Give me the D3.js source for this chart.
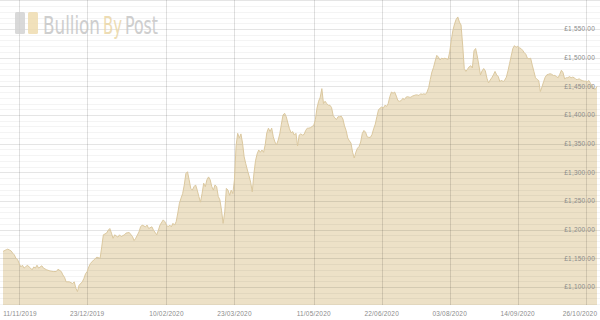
<!DOCTYPE html>
<html>
<head>
<meta charset="utf-8">
<script src="https://cdn.jsdelivr.net/npm/d3@7"></script>
<style>
  html, body { margin: 0; padding: 0; background: #fff; }
  svg { display: block; }
</style>
</head>
<body>
<script>
// gold price, one point per reading (GBP / oz)
var dates = [
  // Nov 2019
  "2019-11-01","2019-11-03","2019-11-04","2019-11-06","2019-11-07","2019-11-08","2019-11-09","2019-11-10",
  "2019-11-11","2019-11-12","2019-11-13","2019-11-14","2019-11-15","2019-11-16","2019-11-18","2019-11-19",
  "2019-11-20","2019-11-21","2019-11-22","2019-11-23","2019-11-25","2019-11-26","2019-11-28","2019-11-30",
  // Dec 2019
  "2019-12-02","2019-12-04","2019-12-05","2019-12-07","2019-12-08","2019-12-09","2019-12-10","2019-12-12",
  "2019-12-14","2019-12-15","2019-12-16","2019-12-17","2019-12-18","2019-12-20","2019-12-21","2019-12-22",
  "2019-12-23","2019-12-24","2019-12-25","2019-12-27","2019-12-29","2019-12-31",
  // Jan 2020
  "2020-01-01","2020-01-02","2020-01-04","2020-01-05","2020-01-06","2020-01-07","2020-01-08","2020-01-09",
  "2020-01-11","2020-01-12","2020-01-13","2020-01-15","2020-01-16","2020-01-18","2020-01-20","2020-01-21",
  "2020-01-22","2020-01-24","2020-01-25","2020-01-26","2020-01-28","2020-01-29","2020-01-30",
  // Feb 2020
  "2020-02-01","2020-02-02","2020-02-04","2020-02-05","2020-02-06","2020-02-08","2020-02-09","2020-02-10",
  "2020-02-11","2020-02-12","2020-02-13","2020-02-14","2020-02-15","2020-02-16","2020-02-17","2020-02-18",
  "2020-02-19","2020-02-20","2020-02-21","2020-02-22","2020-02-23","2020-02-24","2020-02-25","2020-02-26",
  "2020-02-27","2020-02-28","2020-02-29",
  // Mar 2020
  "2020-03-01","2020-03-02","2020-03-03","2020-03-04","2020-03-05","2020-03-06","2020-03-07","2020-03-08",
  "2020-03-09","2020-03-10","2020-03-11","2020-03-12","2020-03-13","2020-03-14","2020-03-15","2020-03-16",
  "2020-03-17","2020-03-18","2020-03-19","2020-03-20","2020-03-21","2020-03-22","2020-03-23","2020-03-24",
  "2020-03-25","2020-03-26","2020-03-27","2020-03-28","2020-03-29","2020-03-30","2020-03-31",
  // Apr 2020
  "2020-04-01","2020-04-02","2020-04-03","2020-04-04","2020-04-05","2020-04-06","2020-04-07","2020-04-08",
  "2020-04-09","2020-04-10","2020-04-11","2020-04-12","2020-04-13","2020-04-14","2020-04-15","2020-04-16",
  "2020-04-17","2020-04-18","2020-04-19","2020-04-20","2020-04-21","2020-04-22","2020-04-23","2020-04-24",
  "2020-04-25","2020-04-26","2020-04-27","2020-04-28","2020-04-29","2020-04-30",
  // May 2020
  "2020-05-01","2020-05-02","2020-05-03","2020-05-04","2020-05-05","2020-05-06","2020-05-07","2020-05-08",
  "2020-05-09","2020-05-10","2020-05-11","2020-05-12","2020-05-13","2020-05-14","2020-05-15","2020-05-16",
  "2020-05-17","2020-05-18","2020-05-19","2020-05-20","2020-05-21","2020-05-22","2020-05-23","2020-05-24",
  "2020-05-25","2020-05-26","2020-05-27","2020-05-28","2020-05-29","2020-05-30","2020-05-31",
  // Jun 2020
  "2020-06-01","2020-06-02","2020-06-03","2020-06-04","2020-06-05","2020-06-06","2020-06-07","2020-06-08",
  "2020-06-09","2020-06-10","2020-06-11","2020-06-12","2020-06-13","2020-06-14","2020-06-15","2020-06-16",
  "2020-06-17","2020-06-18","2020-06-19","2020-06-20","2020-06-21","2020-06-22","2020-06-23","2020-06-24",
  "2020-06-25","2020-06-26","2020-06-27","2020-06-28","2020-06-29","2020-06-30",
  // Jul 2020
  "2020-07-01","2020-07-02","2020-07-03","2020-07-04","2020-07-05","2020-07-06","2020-07-07","2020-07-08",
  "2020-07-09","2020-07-10","2020-07-11","2020-07-12","2020-07-13","2020-07-14","2020-07-15","2020-07-16",
  "2020-07-17","2020-07-18","2020-07-19","2020-07-20","2020-07-21","2020-07-22","2020-07-23","2020-07-24",
  "2020-07-25","2020-07-26","2020-07-27","2020-07-28","2020-07-29","2020-07-30","2020-07-31",
  // Aug 2020
  "2020-08-01","2020-08-02","2020-08-03","2020-08-04","2020-08-05","2020-08-06","2020-08-07","2020-08-08",
  "2020-08-09","2020-08-10","2020-08-11","2020-08-12","2020-08-13","2020-08-14","2020-08-15","2020-08-16",
  "2020-08-17","2020-08-18","2020-08-19","2020-08-20","2020-08-21","2020-08-22","2020-08-23","2020-08-24",
  "2020-08-25","2020-08-26","2020-08-27","2020-08-28","2020-08-29","2020-08-30","2020-08-31",
  // Sep 2020
  "2020-09-01","2020-09-02","2020-09-03","2020-09-04","2020-09-05","2020-09-06","2020-09-07","2020-09-08",
  "2020-09-09","2020-09-10","2020-09-11","2020-09-12","2020-09-13","2020-09-14","2020-09-15","2020-09-16",
  "2020-09-17","2020-09-18","2020-09-19","2020-09-20","2020-09-21","2020-09-22","2020-09-23","2020-09-24",
  "2020-09-25","2020-09-26","2020-09-27","2020-09-28","2020-09-29","2020-09-30",
  // Oct 2020
  "2020-10-01","2020-10-02","2020-10-03","2020-10-04","2020-10-05","2020-10-06","2020-10-07","2020-10-08",
  "2020-10-09","2020-10-10","2020-10-11","2020-10-12","2020-10-13","2020-10-14","2020-10-15","2020-10-16",
  "2020-10-17","2020-10-18","2020-10-19","2020-10-20","2020-10-21","2020-10-22","2020-10-23","2020-10-24",
  "2020-10-25","2020-10-26","2020-10-27","2020-10-28","2020-10-29","2020-10-30","2020-10-31",
  // Nov 2020
  "2020-11-01","2020-11-02"
];

var prices = [
  // Nov 2019
  1162,1165,1166,1163,1159,1156,1150,1148,
  1141,1135,1138,1133,1135,1138,1133,1130,
  1135,1133,1138,1133,1137,1133,1130,1128,
  // Dec 2019
  1127,1127,1131,1127,1121,1117,1109,1109,
  1106,1109,1098,1092,1103,1109,1115,1123,
  1127,1135,1141,1147,1152,1150,
  // Jan 2020
  1170,1191,1194,1199,1202,1194,1185,1191,
  1187,1191,1188,1191,1194,1195,1188,1181,
  1185,1196,1205,1208,1205,1208,1202,
  // Feb 2020
  1205,1199,1191,1199,1208,1217,1214,1208,
  1205,1208,1205,1211,1208,1214,1229,1246,
  1255,1263,1278,1298,1301,1287,1272,1269,
  1275,1278,1269,
  // Mar 2020
  1258,1248,1263,1281,1275,1287,1292,1287,
  1275,1269,1278,1275,1258,1252,1234,1211,
  1231,1272,1269,1260,1269,1263,1287,1346,
  1368,1360,1367,1351,1327,1315,1304,
  // Apr 2020
  1294,1283,1266,1297,1320,1332,1339,1335,
  1339,1335,1348,1369,1377,1371,1377,1362,
  1353,1348,1356,1367,1384,1400,1403,1397,
  1386,1376,1369,1371,1365,1368,
  // May 2020
  1346,1365,1367,1365,1366,1373,1377,1377,
  1378,1380,1382,1392,1412,1424,1431,1446,
  1420,1424,1420,1417,1417,1413,1399,1395,
  1392,1397,1397,1398,1393,1381,1373,
  // Jun 2020
  1360,1355,1351,1335,1325,1335,1342,1345,
  1353,1368,1373,1370,1362,1361,1361,1366,
  1376,1384,1397,1409,1412,1414,1412,1417,
  1415,1420,1432,1440,1438,1440,
  // Jul 2020
  1433,1425,1424,1425,1429,1427,1431,1432,
  1431,1431,1433,1434,1435,1435,1434,1437,
  1436,1437,1436,1440,1448,1462,1475,1483,
  1494,1504,1501,1496,1499,1498,1499,
  // Aug 2020
  1498,1497,1510,1531,1548,1559,1567,1571,
  1562,1557,1522,1481,1476,1480,1484,1486,
  1482,1512,1516,1503,1487,1470,1477,1481,
  1477,1464,1456,1461,1465,1470,1476,
  // Sep 2020
  1470,1467,1458,1461,1458,1461,1466,1477,
  1490,1503,1516,1521,1518,1520,1517,1516,
  1513,1509,1506,1499,1498,1499,1487,1476,
  1465,1462,1460,1441,1449,1458,
  // Oct 2020
  1466,1470,1471,1472,1471,1469,1469,1467,
  1465,1471,1478,1474,1463,1465,1465,1467,
  1465,1466,1465,1462,1462,1463,1461,1460,
  1459,1459,1458,1460,1455,1451,1446,
  // Nov 2020
  1445,1450
];

var xTickDates = ["2019-11-11","2019-12-23","2020-02-10","2020-03-23","2020-05-11",
                  "2020-06-22","2020-08-03","2020-09-14","2020-10-26"];
var yTicks = [1100, 1150, 1200, 1250, 1300, 1350, 1400, 1450, 1500, 1550];

var w = 600, h = 320;
var plotBottom = 305;

var parse = d3.utcParse("%Y-%m-%d");
var fmtDate = d3.utcFormat("%d/%m/%Y");
var fmtMoney = d3.format(",.2f");

var data = dates.map(function(d, i) {
  return { date: parse(d), price: prices[i] };
});

var xScale = d3.scaleUtc()
  .domain(d3.extent(data, function(d) { return d.date; }))
  .range([3, 597]);

var yScale = d3.scaleLinear()
  .domain([1100, 1550])
  .range([287, 29]);

var svg = d3.select("body")
  .append("svg")
  .attr("width", w)
  .attr("height", h);

// price area
var area = d3.area()
  .x(function(d) { return xScale(d.date); })
  .y0(plotBottom)
  .y1(function(d) { return yScale(d.price); });

var line = d3.line()
  .x(function(d) { return xScale(d.date); })
  .y(function(d) { return yScale(d.price); });

svg.append("path")
  .datum(data)
  .attr("d", area)
  .attr("fill", "#ede1c7");

// horizontal grid, £10 minor / £50 major
var gridVals = d3.range(1070, 1601, 10);
svg.append("g")
  .selectAll("line")
  .data(gridVals)
  .enter()
  .append("line")
  .attr("x1", 0)
  .attr("x2", w)
  .attr("y1", function(d) { return Math.round(yScale(d)) + 0.5; })
  .attr("y2", function(d) { return Math.round(yScale(d)) + 0.5; })
  .attr("stroke", "#000")
  .attr("stroke-opacity", function(d) { return d % 50 === 0 ? 0.1 : 0.045; });

// vertical grid at date ticks
svg.append("g")
  .selectAll("line")
  .data(xTickDates)
  .enter()
  .append("line")
  .attr("x1", function(d) { return Math.round(xScale(parse(d))) + 0.5; })
  .attr("x2", function(d) { return Math.round(xScale(parse(d))) + 0.5; })
  .attr("y1", 0)
  .attr("y2", plotBottom)
  .attr("stroke", "#000")
  .attr("stroke-opacity", 0.12);

svg.append("path")
  .datum(data)
  .attr("d", line)
  .attr("fill", "none")
  .attr("stroke", "#dbc89f")
  .attr("stroke-width", 1);

// watermark logo
var logo = svg.append("g").attr("opacity", 0.85);
logo.append("rect")
  .attr("x", 15).attr("y", 12).attr("width", 10).attr("height", 22)
  .attr("rx", 1.5).attr("fill", "#d3d3d3");
logo.append("rect")
  .attr("x", 28).attr("y", 12).attr("width", 10).attr("height", 22)
  .attr("rx", 1.5).attr("fill", "#efdcb0");

// each word squeezed horizontally to the narrow logo lettering
var logoParts = [
  { t: "Bullion", x: 43, len: 57, c: "#c6c6c6" },
  { t: "By", x: 103, len: 19, c: "#ead6a6" },
  { t: "Post", x: 125, len: 33, c: "#c6c6c6" }
];
logo.selectAll("text")
  .data(logoParts)
  .enter()
  .append("text")
  .attr("font-family", "'DejaVu Sans Condensed', 'Liberation Sans Narrow', sans-serif")
  .attr("font-size", 25)
  .attr("fill", function(d) { return d.c; })
  .text(function(d) { return d.t; })
  .attr("transform", function(d) {
    var natural = this.getComputedTextLength();
    return "translate(" + d.x + ",34) scale(" + (d.len / natural) + ",1)";
  });

// y labels on the right
svg.append("g")
  .selectAll("text")
  .data(yTicks)
  .enter()
  .append("text")
  .attr("x", 595)
  .attr("y", function(d) { return yScale(d); })
  .attr("dy", "0.35em")
  .attr("text-anchor", "end")
  .attr("font-family", "'Liberation Sans', Arial, sans-serif")
  .attr("font-size", 6.5)
  .attr("letter-spacing", 0.2)
  .attr("fill", "#8c8c8c")
  .text(function(d) { return "£" + fmtMoney(d); });

// x labels, the last one pulled inside the right edge
svg.append("g")
  .selectAll("text")
  .data(xTickDates)
  .enter()
  .append("text")
  .attr("x", function(d) { return Math.max(20, Math.min(xScale(parse(d)), w - 20)); })
  .attr("y", 316)
  .attr("text-anchor", "middle")
  .attr("font-family", "'Liberation Sans', Arial, sans-serif")
  .attr("font-size", 6.5)
  .attr("letter-spacing", 0.2)
  .attr("fill", "#8c8c8c")
  .text(function(d) { return fmtDate(parse(d)); });
</script>
</body>
</html>
